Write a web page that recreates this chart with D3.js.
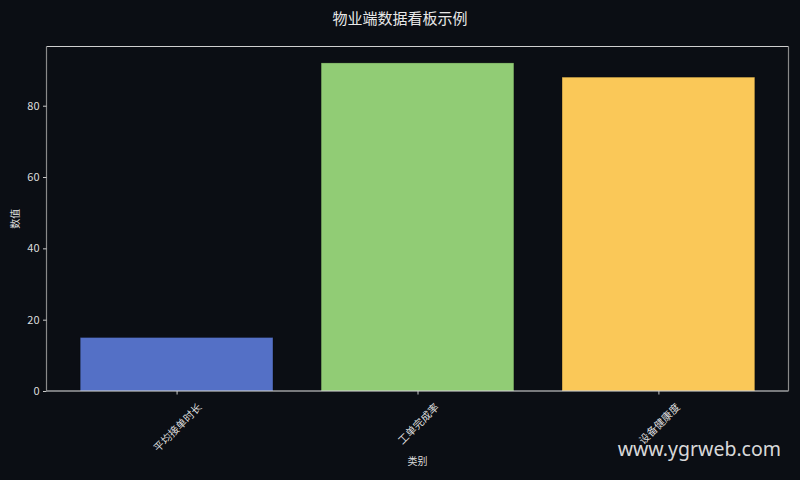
<!DOCTYPE html>
<html><head><meta charset="utf-8">
<script src="https://cdn.jsdelivr.net/npm/d3@7"></script>
<style>
html,body{margin:0;padding:0;background:#0b0e14;}
svg{display:block;}
</style></head>
<body>
<svg id="c" width="800" height="480"></svg>
<script>
const categories = ["平均接单时长", "工单完成率", "设备健康度"];
const values = [15, 92, 88];
const colors = ["#5470c6", "#91cc75", "#fac858"];
const yTicks = [0, 20, 40, 60, 80];
const title = "物业端数据看板示例";
const xLabel = "类别";
const yLabel = "数值";

const W = 800, H = 480;
const m = {l: 46.5, r: 788.5, t: 46.5, b: 391};
const font = "'Noto Sans CJK SC','DejaVu Sans',sans-serif";
const svg = d3.select("#c");
svg.append("rect").attr("width", W).attr("height", H).attr("fill", "#0b0e14");

const n = categories.length;
const x = d3.scaleLinear().domain([-0.54, n - 1 + 0.54]).range([m.l, m.r]);
const yMax = d3.max(values) * 1.05;
const y = d3.scaleLinear().domain([0, yMax]).range([m.b, m.t]);
const bw = 0.8;

svg.append("g").selectAll("rect").data(values).join("rect")
  .attr("x", (d, i) => x(i - bw / 2))
  .attr("width", (d, i) => x(i + bw / 2) - x(i - bw / 2))
  .attr("y", d => y(d))
  .attr("height", d => y(0) - y(d))
  .attr("fill", (d, i) => colors[i])
  .attr("stroke", "rgba(0,0,0,0.25)")
  .attr("stroke-width", 1);

// spines
const g = svg.append("g");
g.append("line").attr("x1", m.l).attr("x2", m.r).attr("y1", m.t).attr("y2", m.t).attr("stroke", "#cfcfcf").attr("stroke-width", 1);
g.append("line").attr("x1", m.l).attr("x2", m.r).attr("y1", m.b).attr("y2", m.b).attr("stroke", "#e6e6e6").attr("stroke-width", 1.2);
g.append("line").attr("x1", m.l).attr("x2", m.l).attr("y1", m.t).attr("y2", m.b).attr("stroke", "#8a8a8a").attr("stroke-width", 1.2);
g.append("line").attr("x1", m.r).attr("x2", m.r).attr("y1", m.t).attr("y2", m.b).attr("stroke", "#8a8a8a").attr("stroke-width", 1.2);

// y axis
const yAxis = d3.axisLeft(y).tickValues(yTicks).tickSize(3.5).tickPadding(3.5);
const ya = svg.append("g").attr("transform", `translate(${m.l},0)`).call(yAxis);
ya.select(".domain").remove();
ya.selectAll("line").attr("stroke", "#cccccc");
ya.selectAll("text").attr("fill", "#dddddd").attr("font-size", 11).attr("font-family", font);

// x axis
const xAxis = d3.axisBottom(x).tickValues(d3.range(n)).tickFormat(i => categories[i]).tickSize(3.5).tickPadding(3);
const xa = svg.append("g").attr("transform", `translate(0,${m.b})`).call(xAxis);
xa.select(".domain").remove();
xa.selectAll("line").attr("stroke", "#cccccc");
xa.selectAll("text")
  .attr("fill", "#dddddd").attr("font-size", 10.5).attr("font-family", font)
  .attr("text-anchor", "middle").attr("dy", null).attr("y", 0)
  .attr("dominant-baseline", "central")
  .each(function() {
    const L = this.getComputedTextLength();
    const h = 10.5;
    const boxH = (L + h) * Math.SQRT1_2;
    d3.select(this).attr("transform", `translate(0,${10 + boxH / 2}) rotate(-45)`);
  });

// labels
svg.append("text").attr("x", W / 2).attr("y", 24).attr("text-anchor", "middle")
  .attr("fill", "#e8e8e8").attr("font-size", 15).attr("font-family", font).text(title);
svg.append("text").attr("x", (m.l + m.r) / 2).attr("y", 465).attr("text-anchor", "middle")
  .attr("fill", "#dddddd").attr("font-size", 10).attr("font-family", font).text(xLabel);
svg.append("text").attr("transform", `translate(19,${(m.t + m.b) / 2}) rotate(-90)`).attr("text-anchor", "middle")
  .attr("fill", "#dddddd").attr("font-size", 10).attr("font-family", font).text(yLabel);

// watermark
svg.append("text").attr("x", 781).attr("y", 456).attr("text-anchor", "end")
  .attr("fill", "rgba(255,255,255,0.85)").attr("font-size", 19.5).attr("font-family", "'Noto Sans','Open Sans',sans-serif").text("www.ygrweb.com");
</script>
</body></html>
